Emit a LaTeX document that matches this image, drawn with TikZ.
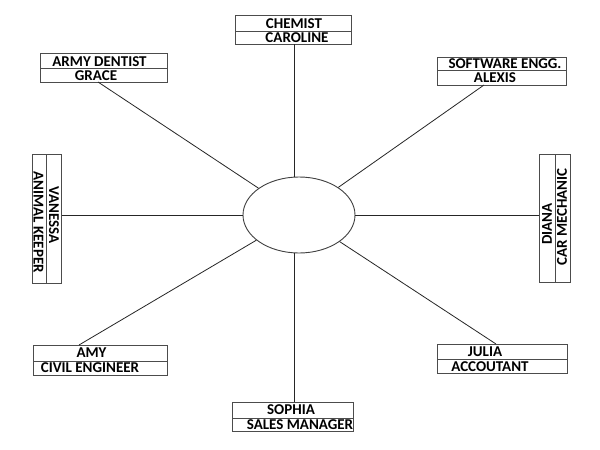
\documentclass[tikz,border=0pt]{standalone}
\usepackage{fontspec}
\setmainfont{Carlito}
\usetikzlibrary{shapes.geometric}
\begin{document}
\begin{tikzpicture}[x=1pt,y=-1pt,
  cell/.style={draw=black!70,line width=0.8pt,inner sep=0pt,anchor=north west},
  lbl/.style={inner sep=0pt,font=\fontsize{15}{15}\selectfont\bfseries},
  conn/.style={draw=black!85,line width=0.8pt}]
\useasboundingbox[fill=white] (0,0) rectangle (600,450);
% hub
\node[ellipse,draw=black!75,line width=0.9pt,minimum width=112pt,minimum height=76pt,inner sep=0pt] (e) at (299,215) {};
% CHEMIST
\node[cell,minimum width=116pt,minimum height=16pt] (chemA) at (235,15) {};
\node[cell,minimum width=116pt,minimum height=13pt] (chemB) at (235,31) {};
\node[lbl] (chemT) at (294,23.5) {CHEMIST};
\node[lbl] (chemN) at (297,38) {CAROLINE};
% ARMY DENTIST
\node[cell,minimum width=127pt,minimum height=15pt] (armyA) at (40,53) {};
\node[cell,minimum width=127pt,minimum height=14pt] (armyB) at (40,68) {};
\node[lbl] (armyT) at (99.5,61.5) {ARMY DENTIST};
\node[lbl] (armyN) at (96,75.5) {GRACE};
% SOFTWARE
\node[cell,minimum width=129pt,minimum height=13pt] (softA) at (437,57) {};
\node[cell,minimum width=129pt,minimum height=15pt] (softB) at (437,70) {};
\node[lbl] (softT) at (505,64) {SOFTWARE ENGG.};
\node[lbl] (softN) at (495,77.5) {ALEXIS};
% VANESSA
\node[cell,minimum width=14pt,minimum height=129pt] (vanA) at (32,154) {};
\node[cell,minimum width=15pt,minimum height=129pt] (vanB) at (46,154) {};
\node[lbl,rotate=-90] (vanN) at (54,215) {VANESSA};
\node[lbl,rotate=-90] (vanT) at (38.5,222) {ANIMAL KEEPER};
% DIANA
\node[cell,minimum width=16pt,minimum height=128pt] (diaA) at (539,154) {};
\node[cell,minimum width=15pt,minimum height=128pt] (diaB) at (555,154) {};
\node[lbl,rotate=90] (diaN) at (547,224) {DIANA};
\node[lbl,rotate=90] (diaT) at (562,217) {CAR MECHANIC};
% AMY
\node[cell,minimum width=134pt,minimum height=16pt] (amyA) at (33,345) {};
\node[cell,minimum width=134pt,minimum height=14pt] (amyB) at (33,361) {};
\node[lbl] (amyN) at (91.5,353) {AMY};
\node[lbl] (amyT) at (90,368) {CIVIL ENGINEER};
% SOPHIA
\node[cell,minimum width=121pt,minimum height=16pt] (sophA) at (232,402) {};
\node[cell,minimum width=121pt,minimum height=13pt] (sophB) at (232,418) {};
\node[lbl] (sophN) at (291,410) {SOPHIA};
\node[lbl] (sophT) at (300,425) {SALES MANAGER};
% JULIA
\node[cell,minimum width=130pt,minimum height=15pt] (julA) at (437,344) {};
\node[cell,minimum width=130pt,minimum height=14pt] (julB) at (437,359) {};
\node[lbl] (julN) at (485,351.5) {JULIA};
\node[lbl] (julT) at (490,367) {ACCOUTANT};
% connector ends on boxes
\coordinate (armyP) at (98,82);
\coordinate (softP) at (484,85);
\coordinate (amyP) at (79,345);
\coordinate (julP) at (496,344);
\coordinate (chemP) at (294,44);
\coordinate (sophP) at (294,402);
% connectors
\draw[conn] (chemP) -- (chemP |- e.north);
\draw[conn] (sophP) -- (sophP |- e.south);
\draw[conn] (e.west) -- (e.west -| vanB.east);
\draw[conn] (e.east) -- (e.east -| diaA.west);
\draw[conn] (armyP) -- (e);
\draw[conn] (softP) -- (e);
\draw[conn] (amyP) -- (e);
\draw[conn] (julP) -- (e);
\end{tikzpicture}
\end{document}
